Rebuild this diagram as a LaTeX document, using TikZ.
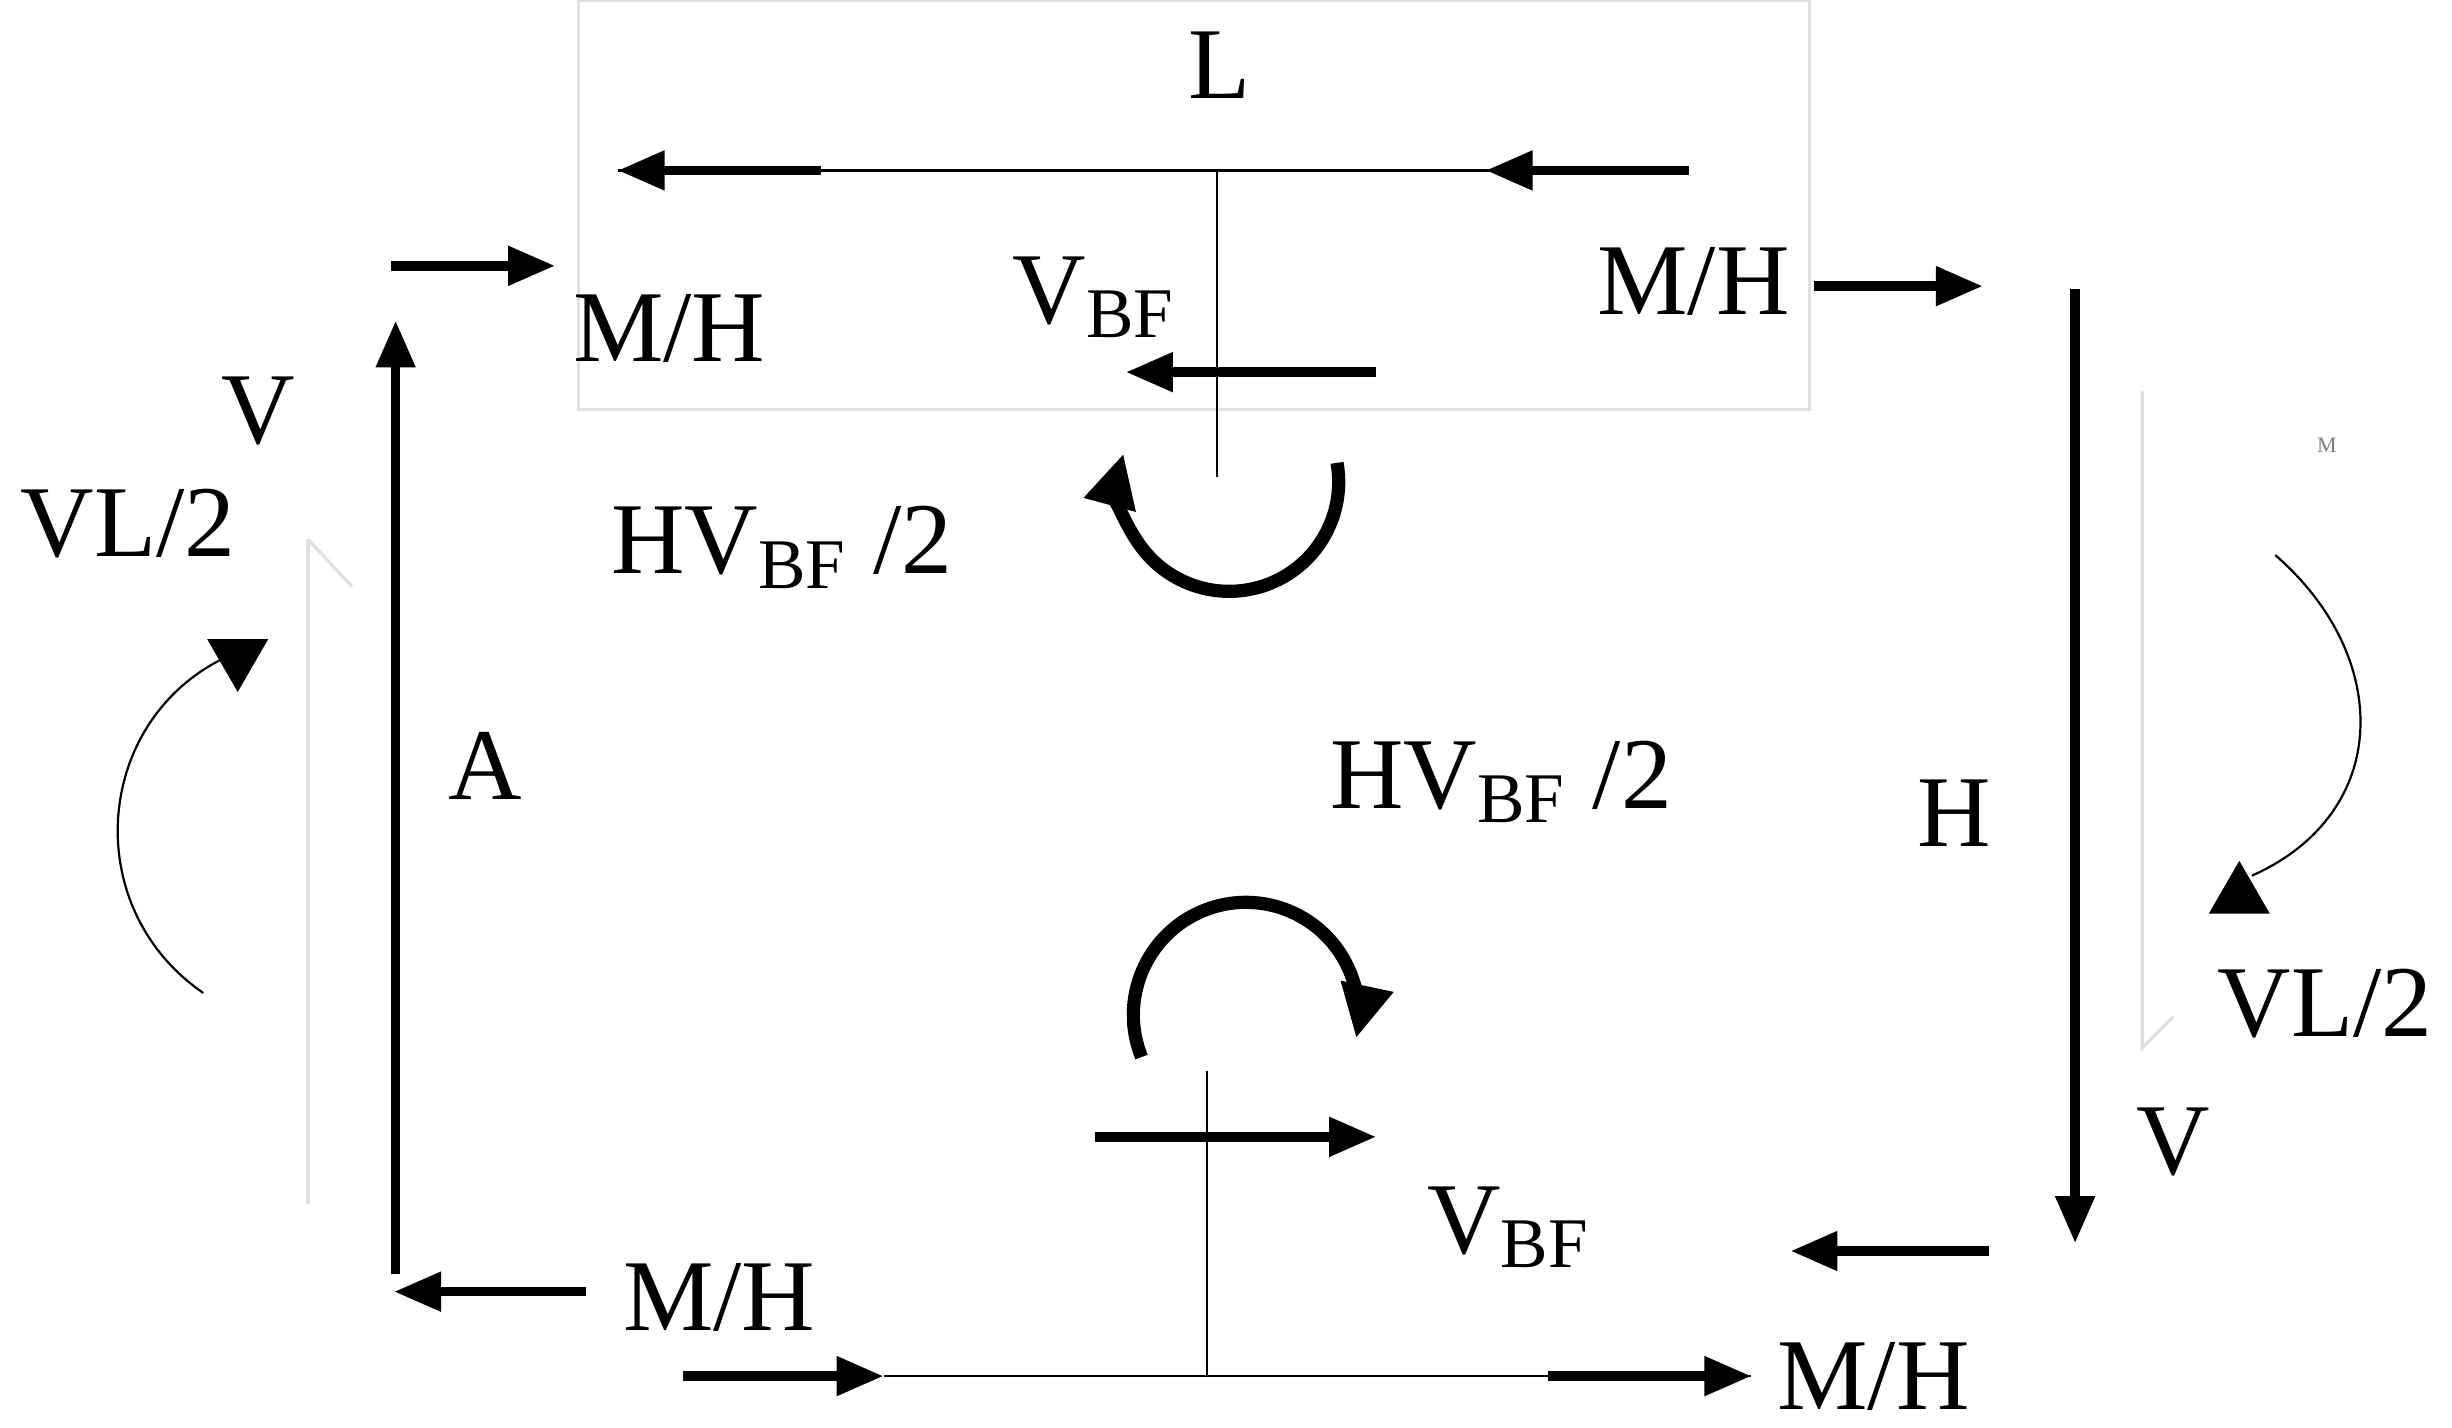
\documentclass[tikz,border=0pt]{standalone}
\usepackage{fontspec}
\setmainfont{Liberation Serif}
\usetikzlibrary{arrows.meta,shapes.geometric}
\begin{document}
\begin{tikzpicture}[x=0.01cm,y=-0.01cm,
  lbl/.style={font=\fontsize{18.5}{22}\selectfont,inner sep=0pt},
  fa/.style={line width=1.7pt,-{Triangle[length=0.3cm,width=0.24cm]}},
  thin/.style={line width=0.4pt},
  faint/.style={draw=black!12,line width=0.6pt}]
\useasboundingbox (0,0) rectangle (1568,913);
\draw[faint] (370,0) rectangle (1157,262);
\draw[faint] (197,345) -- (197,770);
\draw[faint] (197,345) -- (225,375);
\draw[faint] (1370,250) -- (1370,670) -- (1390,650);
\node[font=\fontsize{4}{4}\selectfont,text=black!50] (m) at (1488,285) {M};
% coordinates
\coordinate (tl) at (395,109); \coordinate (tr) at (1080,109);
\coordinate (ta) at (525,109); \coordinate (tb) at (950,109);
\coordinate (tm) at (778,109); \coordinate (tmb) at (778,305);
\coordinate (bl) at (565,880); \coordinate (br) at (1120,880);
\coordinate (bm) at (772,880); \coordinate (bmt) at (772,685);
\draw[thin] (tl) -- (tr);
\draw[fa] (ta) -- (tl);
\draw[fa] (tr) -- (tb);
\draw[thin] (tm) -- (tmb);
\draw[thin] (bl) -- (br);
\draw[thin] (bm) -- (bmt);
\coordinate (v1a) at (880,238); \coordinate (v1b) at (720,238);
\draw[fa] (v1a) -- (v1b);
\coordinate (v2a) at (700,727); \coordinate (v2b) at (880,727);
\draw[fa] (v2a) -- (v2b);
\coordinate (b1) at (437,880); \draw[fa] (b1) -- (bl);
\coordinate (b2) at (990,880); \draw[fa] (b2) -- (br);
\coordinate (a1) at (250,170); \coordinate (a2) at (355,170); \draw[fa] (a1) -- (a2);
\coordinate (a3) at (1160,183); \coordinate (a4) at (1268,183); \draw[fa] (a3) -- (a4);
\coordinate (a5) at (375,826); \coordinate (a6) at (252,826); \draw[fa] (a5) -- (a6);
\coordinate (a7) at (1272,800); \coordinate (a8) at (1145,800); \draw[fa] (a7) -- (a8);
\coordinate (lv1) at (253,815); \coordinate (lv2) at (253,205); \draw[fa] (lv1) -- (lv2);
\coordinate (rv1) at (1327,185); \coordinate (rv2) at (1327,795); \draw[fa] (rv1) -- (rv2);
% moment arcs
\coordinate (c1) at (855,296);
\draw[line width=2.4pt,-{Triangle[length=0.34cm,width=0.32cm]}] (c1) arc[start angle=-10,end angle=195,radius=70];
\coordinate (c2) at (730,676);
\draw[line width=2.4pt,-{Triangle[length=0.34cm,width=0.32cm]}] (c2) arc[start angle=158,end angle=372,radius=72];
% thin arcs with triangles
\coordinate (l1) at (130,635); \coordinate (l2) at (145,420);
\draw[thin] (l1) .. controls (50,580) and (60,460) .. (l2);
\node[fill=black,regular polygon,regular polygon sides=3,shape border rotate=180,minimum size=0.45cm,inner sep=0pt] (t1) at (152,420) {};
\coordinate (r1) at (1455,355); \coordinate (r2) at (1440,560);
\draw[thin] (r1) .. controls (1530,420) and (1530,520) .. (r2);
\node[fill=black,regular polygon,regular polygon sides=3,minimum size=0.45cm,inner sep=0pt] (t2) at (1432,573) {};
% labels
\node[lbl] (L) at (780,42) {L};
\node[lbl] (mh1) at (428,210) {M/H};
\node[lbl] (mh2) at (1083,180) {M/H};
\node[lbl] (mh3) at (460,830) {M/H};
\node[lbl] (mh4) at (1198,880) {M/H};
\node[lbl] (vbf1) at (700,190) {V\textsubscript{BF}};
\node[lbl] (vbf2) at (965,785) {V\textsubscript{BF}};
\node[lbl] (hv1) at (500,350) {HV\textsubscript{BF} /2};
\node[lbl] (hv2) at (960,500) {HV\textsubscript{BF} /2};
\node[lbl] (v1) at (165,263) {V};
\node[lbl] (vl1) at (82,335) {VL/2};
\node[lbl] (A) at (310,490) {A};
\node[lbl] (H) at (1250,520) {H};
\node[lbl] (v2) at (1390,730) {V};
\node[lbl] (vl2) at (1487,642) {VL/2};
\end{tikzpicture}
\end{document}
